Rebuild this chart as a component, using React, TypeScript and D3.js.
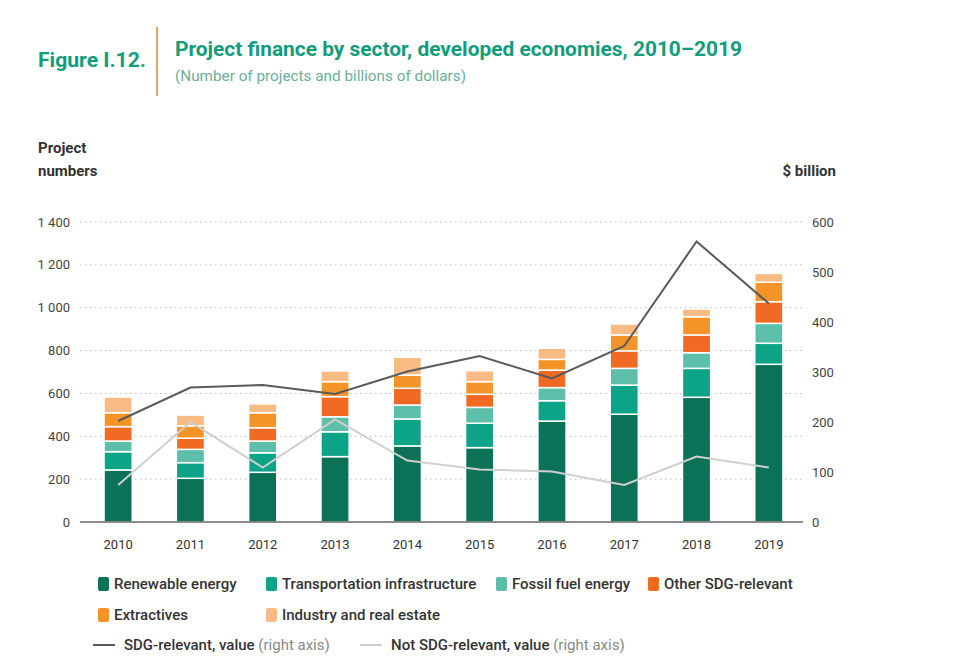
import React, { useEffect, useRef } from 'react';
import * as d3 from 'd3';

// Project finance by sector, developed economies (number of projects)
const years = ['2010', '2011', '2012', '2013', '2014', '2015', '2016', '2017', '2018', '2019'];
const renewable = [243, 204, 232, 305, 355, 347, 471, 503, 582, 736];
const transport = [85, 73, 91, 116, 126, 114, 95, 136, 135, 98];
const fossil = [50, 62, 55, 70, 65, 74, 61, 78, 73, 93];
const otherSdg = [67, 52, 62, 94, 78, 61, 82, 82, 83, 101];
const extractives = [65, 58, 70, 70, 62, 59, 50, 74, 85, 91];
const industry = [73, 50, 41, 50, 83, 51, 52, 51, 36, 41];

// Value lines, $ billion (right axis)
const sdgValue = [202, 269, 274, 256, 301, 332, 287, 352, 561, 437];
const nonSdgValue = [74, 200, 109, 205, 123, 105, 101, 74, 131, 109];

const leftTicks = [0, 200, 400, 600, 800, 1000, 1200, 1400];
const rightTicks = [0, 100, 200, 300, 400, 500, 600];

const sectors = [
  { key: 'renewable', label: 'Renewable energy', color: '#0b7258', values: renewable },
  { key: 'transport', label: 'Transportation infrastructure', color: '#0da386', values: transport },
  { key: 'fossil', label: 'Fossil fuel energy', color: '#5dbfa9', values: fossil },
  { key: 'otherSdg', label: 'Other SDG-relevant', color: '#f06a23', values: otherSdg },
  { key: 'extractives', label: 'Extractives', color: '#f49328', values: extractives },
  { key: 'industry', label: 'Industry and real estate', color: '#f8bb84', values: industry },
];

const FONT = "Roboto, 'Liberation Sans', sans-serif";
const TEAL = '#139c7c';

export default function App() {
  const ref = useRef<SVGSVGElement>(null);

  useEffect(() => {
    document.body.style.margin = '0';
    const svg = d3.select(ref.current);
    svg.selectAll('*').remove();

    const x = d3.scaleBand().domain(years).range([82, 805]).paddingInner(0.61).paddingOuter(0.305);
    const y = d3.scaleLinear().domain([0, 1400]).range([522, 222]);
    const yR = d3.scaleLinear().domain([0, 600]).range([522, 222]);

    // heading
    svg.append('text').attr('x', 38).attr('y', 67).text('Figure I.12.')
      .attr('font-family', FONT).attr('font-weight', 'bold').attr('font-size', 20).attr('fill', TEAL)
      .attr('textLength', 108).attr('lengthAdjust', 'spacingAndGlyphs');
    svg.append('line').attr('x1', 157).attr('x2', 157).attr('y1', 27).attr('y2', 96)
      .attr('stroke', '#f0a05a').attr('stroke-width', 2);
    svg.append('text').attr('x', 175).attr('y', 56)
      .text('Project finance by sector, developed economies, 2010–2019')
      .attr('font-family', FONT).attr('font-weight', 'bold').attr('font-size', 20).attr('fill', TEAL)
      .attr('textLength', 567).attr('lengthAdjust', 'spacingAndGlyphs');
    svg.append('text').attr('x', 175).attr('y', 81)
      .text('(Number of projects and billions of dollars)')
      .attr('font-family', FONT).attr('font-size', 14).attr('fill', '#6aae9c')
      .attr('textLength', 291).attr('lengthAdjust', 'spacingAndGlyphs');

    // axis titles
    const axisTitle = svg.append('text').attr('font-family', FONT).attr('font-weight', 'bold')
      .attr('font-size', 15).attr('fill', '#333');
    axisTitle.append('tspan').attr('x', 38).attr('y', 153).text('Project');
    axisTitle.append('tspan').attr('x', 38).attr('y', 176).text('numbers');
    svg.append('text').attr('x', 836).attr('y', 176).attr('text-anchor', 'end').text('$ billion')
      .attr('font-family', FONT).attr('font-weight', 'bold').attr('font-size', 15).attr('fill', '#333');

    // dotted grid
    svg.append('g').selectAll('line').data(leftTicks.filter(d => d > 0)).join('line')
      .attr('x1', 80).attr('x2', 802)
      .attr('y1', d => y(d)).attr('y2', d => y(d))
      .attr('stroke', '#bdbdbd').attr('stroke-width', 1).attr('stroke-dasharray', '1.5,3.5');

    // left and right tick labels
    const fmt = (v: number) => d3.format(',')(v).replace(',', ' ');
    svg.append('g').selectAll('text').data(leftTicks).join('text')
      .attr('x', 70).attr('y', d => y(d)).attr('dy', '0.35em').attr('text-anchor', 'end')
      .text(fmt).attr('font-family', FONT).attr('font-size', 13).attr('fill', '#444');
    svg.append('g').selectAll('text').data(rightTicks).join('text')
      .attr('x', 812).attr('y', d => yR(d)).attr('dy', '0.35em')
      .text(d => String(d)).attr('font-family', FONT).attr('font-size', 13).attr('fill', '#444');

    // stacked bars
    const rows = years.map((yr, i) => {
      const r: any = { year: yr };
      sectors.forEach(s => { r[s.key] = s.values[i]; });
      return r;
    });
    const stack = d3.stack<any>().keys(sectors.map(s => s.key))(rows);
    svg.append('g').selectAll('g').data(stack).join('g')
      .attr('fill', (_, i) => sectors[i].color)
      .selectAll('rect').data(d => d).join('rect')
      .attr('x', d => x(d.data.year)!)
      .attr('width', x.bandwidth())
      .attr('y', d => y(d[1]))
      .attr('height', d => y(d[0]) - y(d[1]))
      .attr('stroke', '#ffffff').attr('stroke-width', 1.5);

    // baseline
    svg.append('line').attr('x1', 80).attr('x2', 803).attr('y1', y(0)).attr('y2', y(0))
      .attr('stroke', '#666').attr('stroke-width', 1.5);

    // x labels
    svg.append('g').selectAll('text').data(years).join('text')
      .attr('x', d => x(d)! + x.bandwidth() / 2).attr('y', 549).attr('text-anchor', 'middle')
      .text(d => d).attr('font-family', FONT).attr('font-size', 13).attr('fill', '#333');

    // value lines
    const line = d3.line<number>()
      .x((_, i) => x(years[i])! + x.bandwidth() / 2)
      .y(d => yR(d));
    svg.append('path').attr('d', line(nonSdgValue)!).attr('fill', 'none')
      .attr('stroke', '#cfcfcf').attr('stroke-width', 2);
    svg.append('path').attr('d', line(sdgValue)!).attr('fill', 'none')
      .attr('stroke', '#5a5a5a').attr('stroke-width', 2);

    // legend
    const legendPos = [
      { x: 98, y: 584 }, { x: 266, y: 584 }, { x: 496, y: 584 },
      { x: 648, y: 584 }, { x: 98, y: 615 }, { x: 266, y: 615 },
    ];
    const items = svg.append('g').selectAll('g').data(sectors).join('g')
      .attr('transform', (_, i) => `translate(${legendPos[i].x},${legendPos[i].y})`);
    items.append('rect').attr('x', 0).attr('y', -7).attr('width', 11).attr('height', 14)
      .attr('rx', 2).attr('fill', d => d.color);
    items.append('text').attr('x', 16).attr('dy', '0.36em').text(d => d.label)
      .attr('font-family', FONT).attr('font-size', 15).attr('font-weight', 500).attr('fill', '#333');

    const lineLegend = [
      { x: 93, label: 'SDG-relevant, value', color: '#5a5a5a' },
      { x: 360, label: 'Not SDG-relevant, value', color: '#cfcfcf' },
    ];
    const ll = svg.append('g').selectAll('g').data(lineLegend).join('g')
      .attr('transform', d => `translate(${d.x},645)`);
    ll.append('line').attr('x1', 0).attr('x2', 22).attr('stroke', d => d.color).attr('stroke-width', 2);
    const lt = ll.append('text').attr('x', 31).attr('dy', '0.36em')
      .attr('font-family', FONT).attr('font-size', 15);
    lt.append('tspan').text(d => d.label).attr('font-weight', 500).attr('fill', '#333');
    lt.append('tspan').text(' (right axis)').attr('fill', '#888');
  }, []);

  return <svg ref={ref} width={975} height={660} style={{ display: 'block', background: '#fff' }} />;
}
